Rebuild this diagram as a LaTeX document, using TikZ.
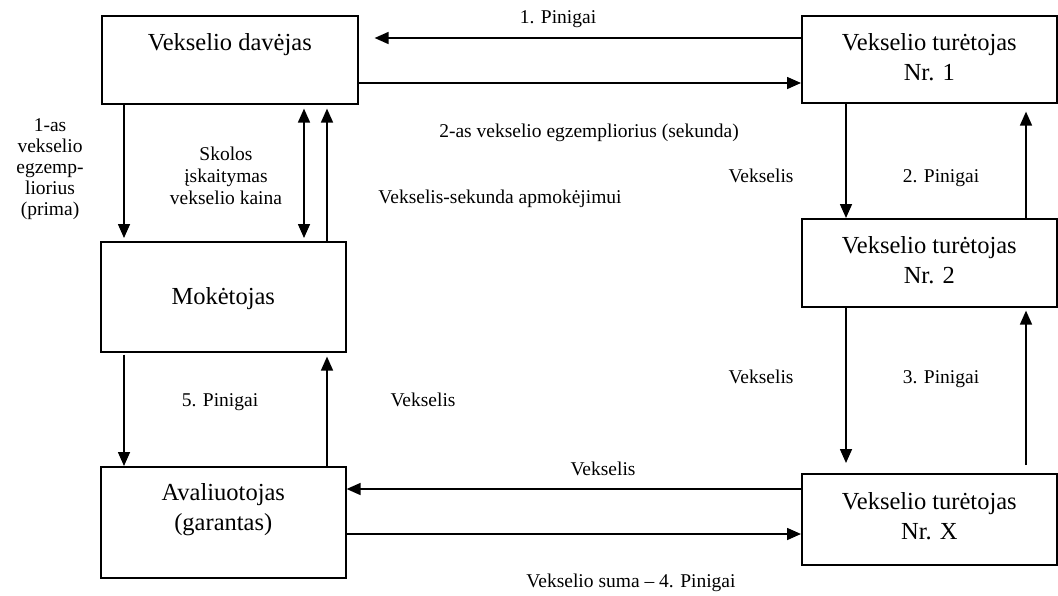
\documentclass[tikz,border=0pt]{standalone}
\usepackage{fontspec}
\setmainfont{Liberation Serif}
\usetikzlibrary{arrows.meta,calc}
\begin{document}
\begin{tikzpicture}[x=1pt,y=-1pt,
  box/.style={draw,line width=1.6pt,inner xsep=0pt,inner ysep=0pt,anchor=north west,
              align=center,font=\fontsize{24.5}{30}\selectfont},
  lbl/.style={anchor=base,inner sep=0pt,align=center,font=\fontsize{19.5}{22}\selectfont},
  arr/.style={line width=1.6pt,-{Triangle[length=14pt,width=12pt]}},
  darr/.style={line width=1.6pt,{Triangle[length=14pt,width=12pt]}-{Triangle[length=14pt,width=12pt]}}]
\useasboundingbox (0,0) rectangle (1058,595);

% boxes
\node[box,minimum width=256pt,text height=35pt,text depth=53pt] (A) at (101,15) {Vekselio davėjas};
\node[box,minimum width=255pt,text height=65pt,text depth=22pt] (N1) at (801,15) {Vekselio turėtojas\\Nr. 1};
\node[box,minimum width=255pt,text height=65pt,text depth=23pt] (N2) at (801,218) {Vekselio turėtojas\\Nr. 2};
\node[box,minimum width=255pt,text height=66pt,text depth=25pt] (NX) at (801,473) {Vekselio turėtojas\\Nr. X};
\node[box,minimum width=245pt,text height=63pt,text depth=47pt] (M) at (100,241) {Mokėtojas};
\node[box,minimum width=245pt,text height=64pt,text depth=47pt] (AV) at (100,466) {Avaliuotojas\\(garantas)};

% helper coordinates
\coordinate (x1) at (124,0);
\coordinate (x2) at (304,0);
\coordinate (x3) at (327,0);
\coordinate (x4) at (846,0);
\coordinate (x5) at (1026,0);
\coordinate (y1) at (0,38);
\coordinate (y2) at (0,83);
\coordinate (y3) at (0,489);
\coordinate (y4) at (0,534);

% connectors
\draw[arr,shorten >=16pt] (y1 -| N1.west) -- (y1 -| A.east);
\draw[arr] (y2 -| A.east) -- (y2 -| N1.west);
\draw[arr,shorten >=3pt] (x1 |- A.south) -- (x1 |- M.north);
\draw[darr,shorten <=4pt,shorten >=3pt] (x2 |- A.south) -- (x2 |- M.north);
\draw[arr,shorten >=4pt] (x3 |- M.north) -- (x3 |- A.south);
\draw[arr,shorten <=2pt] (x1 |- M.south) -- (x1 |- AV.north);
\draw[arr,shorten >=4pt] (x3 |- AV.north) -- (x3 |- M.south);
\draw[arr] (y3 -| NX.west) -- (y3 -| AV.east);
\draw[arr] (y4 -| AV.east) -- (y4 -| NX.west);
\draw[arr] (x4 |- N1.south) -- (x4 |- N2.north);
\draw[arr,shorten >=8pt] (x5 |- N2.north) -- (x5 |- N1.south);
\draw[arr,shorten >=10pt] (x4 |- N2.south) -- (x4 |- NX.north);
\draw[arr,shorten <=8pt,shorten >=3pt] (x5 |- NX.north) -- (x5 |- N2.south);

% labels
\node[lbl] (l1) at (558,23) {1. Pinigai};
\node[lbl] (l2) at (589,137) {2-as vekselio egzempliorius (sekunda)};
\node[lbl] (l3) at (500,203) {Vekselis-sekunda apmokėjimui};
\node[lbl,font=\fontsize{19.5}{21}\selectfont] (l4) at (50,215) {1-as\\vekselio\\egzemp-\\liorius\\(prima)};
\node[lbl] (l5) at (226,204) {Skolos\\įskaitymas\\vekselio kaina};
\node[lbl] (l6) at (761,182) {Vekselis};
\node[lbl] (l7) at (941,182) {2. Pinigai};
\node[lbl] (l8) at (761,383) {Vekselis};
\node[lbl] (l9) at (941,383) {3. Pinigai};
\node[lbl] (l10) at (220,406) {5. Pinigai};
\node[lbl] (l11) at (423,406) {Vekselis};
\node[lbl] (l12) at (603,475) {Vekselis};
\node[lbl] (l13) at (631,587) {Vekselio suma – 4. Pinigai};
\end{tikzpicture}
\end{document}
